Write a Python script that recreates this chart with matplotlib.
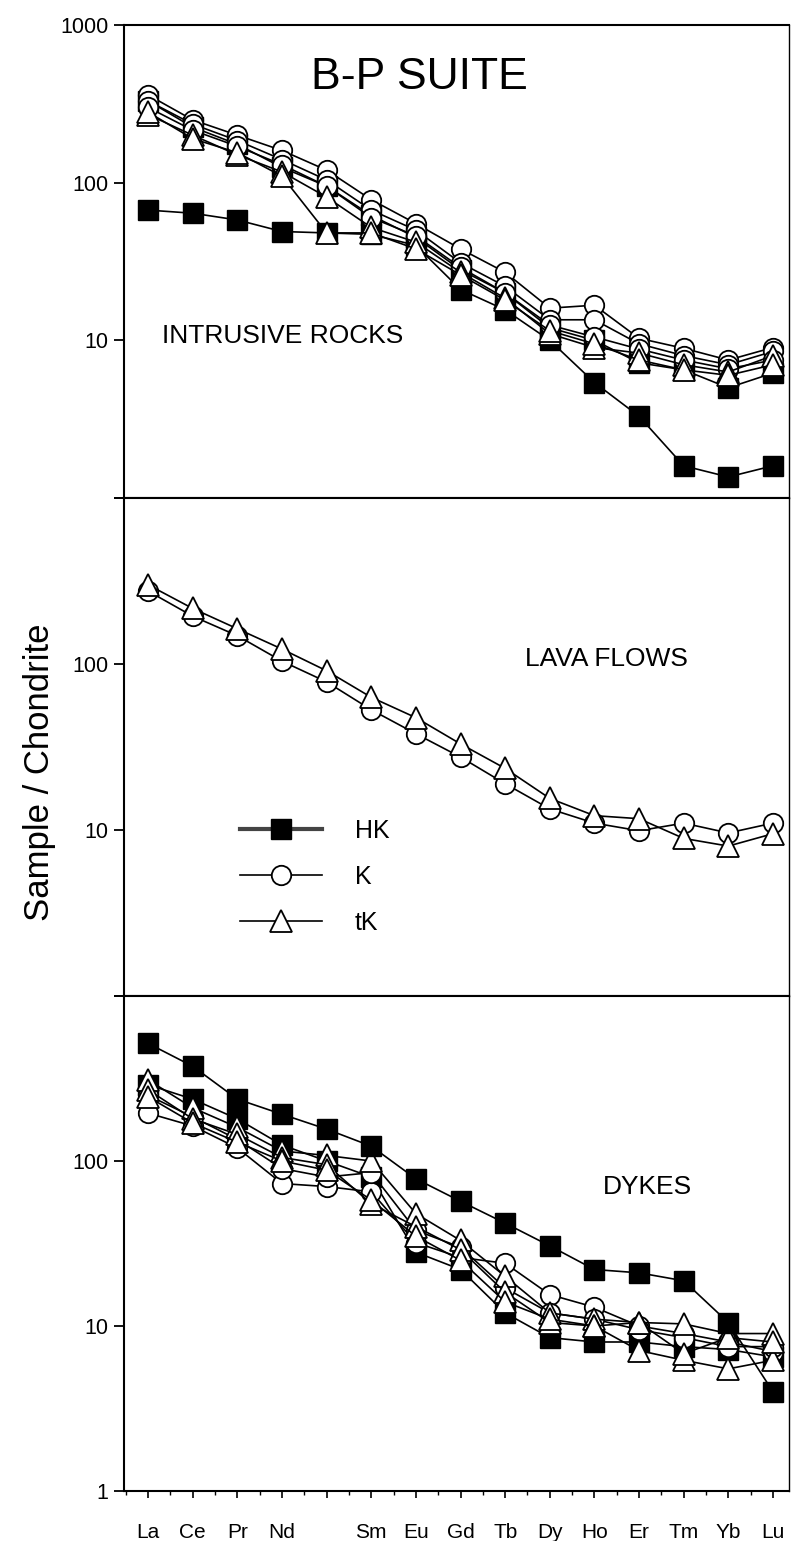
import matplotlib
matplotlib.use("Agg")
import matplotlib.pyplot as plt
from matplotlib.ticker import FixedLocator, NullLocator, FixedFormatter, MultipleLocator
from matplotlib.lines import Line2D

plt.rcParams['font.family'] = ['Liberation Sans', 'DejaVu Sans']

# ---------------- data ----------------
elements = ['La', 'Ce', 'Pr', 'Nd', 'Pm', 'Sm', 'Eu', 'Gd', 'Tb', 'Dy', 'Ho', 'Er', 'Tm', 'Yb', 'Lu']
tick_labels = ['La', 'Ce', 'Pr', 'Nd', '', 'Sm', 'Eu', 'Gd', 'Tb', 'Dy', 'Ho', 'Er', 'Tm', 'Yb', 'Lu']

# Intrusive rocks
intr_hk1 = [67, 64, 58, 49, 48, 47, 40, 21, 15.6, 10, 5.4, 3.3, 1.6, 1.36, 1.6]
intr_hk2 = [330, 225, 175, 125, 95, 62, 45, 28, 20, 12, 10, 7.2, 6.5, 5.0, 6.2]
intr_k1 = [360, 250, 200, 160, 120, 78, 55, 38, 27, 16, 16.7, 10.3, 8.9, 7.5, 9.0]
intr_k2 = [330, 235, 185, 140, 104, 67, 50, 31, 22, 13.5, 13.5, 9.5, 8.0, 7.0, 8.5]
intr_k3 = [300, 215, 170, 130, 95, 60, 46, 29, 20, 12.5, 10.5, 8.8, 7.5, 6.6, 7.5]
intr_tk1 = [270, 200, 150, 117, 81, 52, 42, 27, 18.5, 11, 9.0, 8.3, 7.0, 6.3, 8.0]
intr_tk2 = [280, 190, 155, 110, 48, 48, 38, 26, 18, 11.5, 9.5, 7.5, 6.5, 6.0, 7.0]

# Lava flows
lava_k = [275, 194, 148, 104, 78, 53, 38, 27.5, 19, 13.4, 11, 9.9, 11, 9.6, 11]
lava_tk = [300, 216, 163, 123, 91, 63, 47.5, 33, 23.5, 15.5, 12.2, 11.7, 8.9, 8.0, 9.5]

# Dykes
dyke_hk1 = [516, 375, 237, 192, 156, 123, 78, 57, 42, 30.6, 22, 21, 18.8, 10.5, 4.0]
dyke_hk2 = [290, 237, 180, 125, 100, 80, 28, 22, 12, 8.5, 8.0, 8.0, 7.5, 7.2, 6.5]
dyke_k1 = [195, 163, 120, 73, 70, 65, 32, 26, 24, 15.5, 13, 10, 9, 8, 7]
dyke_k2 = [250, 185, 135, 90, 80, 85, 38, 30, 17, 12, 11, 9.5, 8.5, 7.5, 7.5]
dyke_tk1 = [310, 210, 160, 115, 108, 100, 48, 33, 20, 12, 11, 10.5, 10.3, 9.0, 9.0]
dyke_tk2 = [270, 180, 145, 105, 95, 55, 40, 29, 16, 10.5, 10, 7.1, 6.2, 5.5, 6.2]
dyke_tk3 = [245, 170, 130, 100, 88, 58, 35, 25, 14, 11, 10, 10.5, 6.8, 8.5, 8.0]

legend_labels = ['HK', 'K', 'tK']

# ---------------- styles ----------------
x = list(range(len(elements)))
W, H = 793, 1541
fig = plt.figure(figsize=(W / 100, H / 100), dpi=100)

left_px, right_px = 124, 789
panels_px = [(25, 498), (498, 996), (996, 1491)]
axes = []
for (t, b) in panels_px:
    ax = fig.add_axes([left_px / W, 1 - b / H, (right_px - left_px) / W, (b - t) / H])
    axes.append(ax)

sty = {
    'HK': dict(marker='s', markersize=15, markerfacecolor='black', markeredgecolor='black'),
    'K': dict(marker='o', markersize=14, markerfacecolor='white', markeredgecolor='black', markeredgewidth=1.3),
    'tK': dict(marker='^', markersize=16, markerfacecolor='white', markeredgecolor='black', markeredgewidth=1.3),
}

def draw(ax, vals, kind):
    ax.plot(x, vals, color='black', lw=1.2, **sty[kind])

ax0, ax1, ax2 = axes
for v in [intr_hk1, intr_hk2]:
    draw(ax0, v, 'HK')
for v in [intr_k1, intr_k2, intr_k3]:
    draw(ax0, v, 'K')
for v in [intr_tk1, intr_tk2]:
    draw(ax0, v, 'tK')

draw(ax1, lava_k, 'K')
draw(ax1, lava_tk, 'tK')

draw(ax2, dyke_hk2, 'HK')
for v in [dyke_k1, dyke_k2]:
    draw(ax2, v, 'K')
for v in [dyke_tk1, dyke_tk2, dyke_tk3]:
    draw(ax2, v, 'tK')
draw(ax2, dyke_hk1, 'HK')

ylabels = [
    ['', '10', '100', '1000'],
    ['', '10', '100', ''],
    ['1', '10', '100', ''],
]
for i, ax in enumerate(axes):
    ax.set_yscale('log')
    ax.set_ylim(1, 1000)
    ax.set_xlim(-0.54, 14.36)
    ax.yaxis.set_major_locator(FixedLocator([1, 10, 100, 1000]))
    ax.yaxis.set_major_formatter(FixedFormatter(ylabels[i]))
    ax.yaxis.set_minor_locator(NullLocator())
    ax.tick_params(axis='y', which='major', direction='out', length=7, width=1.3,
                   labelsize=15.5, pad=4, right=False)
    ax.xaxis.set_major_locator(FixedLocator(x))
    ax.xaxis.set_minor_locator(MultipleLocator(0.5))
    ax.tick_params(axis='x', which='major', direction='out', length=5, width=1.2, top=False)
    ax.tick_params(axis='x', which='minor', direction='out', length=3, width=1.0, top=False)
    if i < 2:
        ax.set_xticklabels([])
    else:
        ax.set_xticklabels(tick_labels, fontsize=15)
        ax.tick_params(axis='x', which='major', pad=18)
    for s in ax.spines.values():
        s.set_linewidth(1.5)
    ax.spines['right'].set_linewidth(1.0)

ax0.text(0.444, 0.89, 'B-P SUITE', transform=ax0.transAxes, fontsize=32,
         ha='center', va='center')
ax0.text(0.057, 0.342, 'INTRUSIVE ROCKS', transform=ax0.transAxes, fontsize=19,
         ha='left', va='center')
ax1.text(0.603, 0.677, 'LAVA FLOWS', transform=ax1.transAxes, fontsize=19,
         ha='left', va='center')
ax2.text(0.72, 0.614, 'DYKES', transform=ax2.transAxes, fontsize=19,
         ha='left', va='center')

handles = [
    Line2D([], [], color='#444444', lw=3, **sty['HK']),
    Line2D([], [], color='black', lw=1.2, **sty['K']),
    Line2D([], [], color='black', lw=1.2, **sty['tK']),
]
ax1.legend(handles, legend_labels, loc='upper left', bbox_to_anchor=(0.174, 0.355),
           frameon=False, fontsize=18, handlelength=3.3, handletextpad=1.3,
           labelspacing=0.87, borderpad=0, borderaxespad=0, numpoints=1)

fig.text(40 / W, 1 - 772 / H, 'Sample / Chondrite', rotation=90, fontsize=25,
         ha='center', va='center')

fig.savefig('out.png', dpi=100)
